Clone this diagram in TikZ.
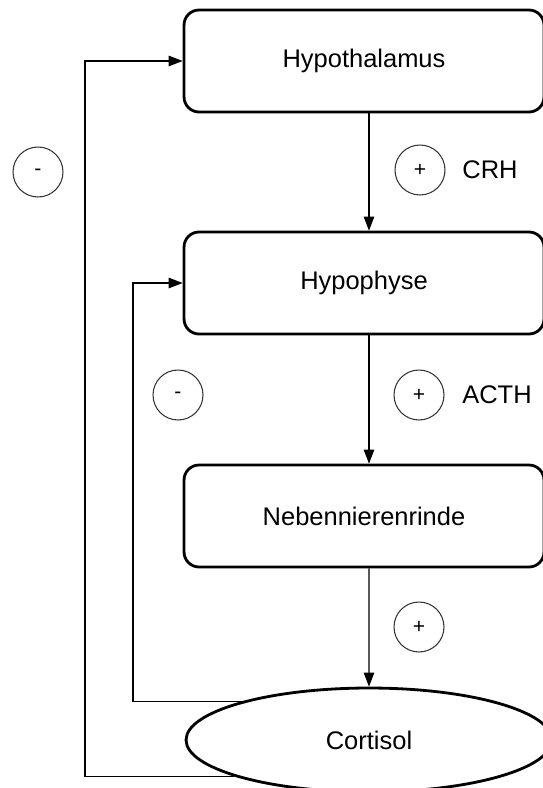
\documentclass[tikz,border=0pt]{standalone}
\usepackage{fontspec}
\setmainfont{Liberation Sans}
\usetikzlibrary{shapes,arrows.meta,positioning,calc}

\begin{document}
\begin{tikzpicture}[
    x=0.02cm, y=-0.02cm,
    organ/.style={rectangle, rounded corners=0.3cm, draw=black, line width=1.6pt, minimum width=7.2cm, minimum height=2.04cm, font=\fontsize{14.5}{17}\selectfont},
    hormone/.style={ellipse, draw=black, line width=1.6pt, minimum width=7.32cm, minimum height=2.08cm, font=\fontsize{14.5}{17}\selectfont},
    sign/.style={circle, draw=black!80, line width=0.6pt, minimum size=1cm, inner sep=0pt, font=\fontsize{12}{14}\selectfont},
    label/.style={font=\fontsize{14.5}{17}\selectfont},
    arrow/.style={-{Triangle[length=8pt,width=6pt]}, line width=0.6pt}
]
\useasboundingbox (0,0) rectangle (543,788);

% Axis
\node[organ] (hypothalamus) at (364,61) {Hypothalamus};
\node[organ] (hypophyse) at (364,283) {Hypophyse};
\node[organ] (nnr) at (364,516) {Nebennierenrinde};
\node[hormone] (cortisol) at (369,740) {Cortisol};

% Stimulation
\draw[arrow] ([xshift=0.1cm]hypothalamus.south) -- ([xshift=0.1cm]hypophyse.north);
\draw[arrow] ([xshift=0.1cm]hypophyse.south) -- ([xshift=0.1cm]nnr.north);
\draw[arrow] ([xshift=0.1cm]nnr.south) -- (cortisol.north);

\node[sign] (crhplus) at (420,170) {+};
\node[label] (crh) at (490,170) {CRH};
\node[sign] (acthplus) at (419,395) {+};
\node[label] (acth) at (497,395) {ACTH};
\node[sign] (cortplus) at (419,627) {+};

% Feedback
\coordinate (inner) at (133,0);
\coordinate (outer) at (85,0);
\draw[arrow] (cortisol.163) -- (cortisol.163 -| inner) |- (hypophyse.west);
\draw[arrow] (cortisol.195) -- (cortisol.195 -| outer) |- (hypothalamus.west);

\node[sign] (outerminus) at (38,172) {-};
\node[sign] (innerminus) at (178,395) {-};

\end{tikzpicture}
\end{document}
